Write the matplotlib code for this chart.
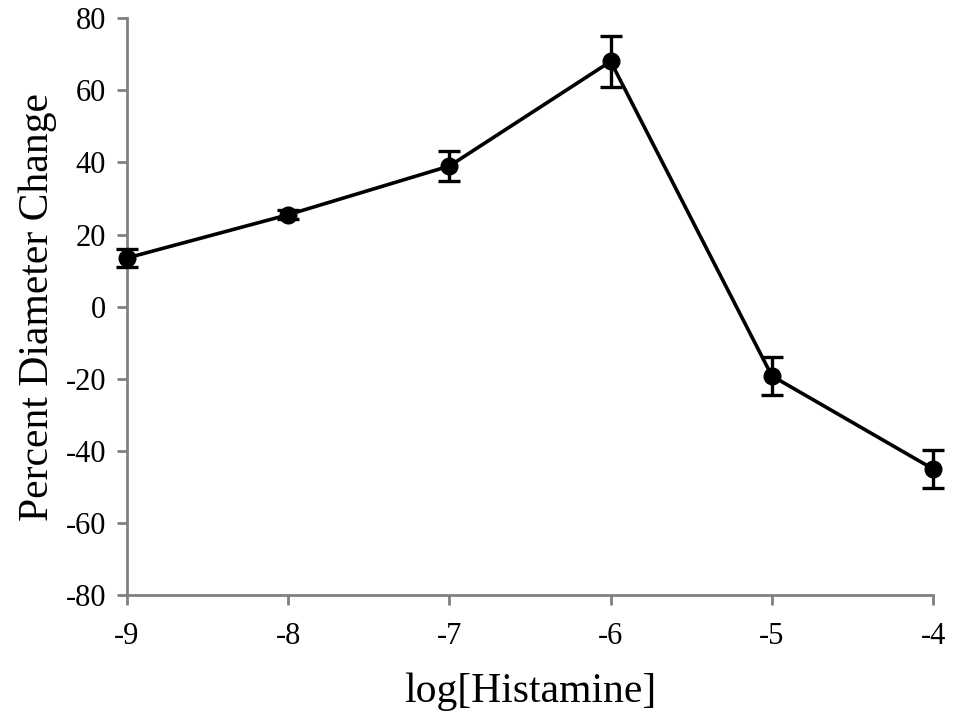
import matplotlib
matplotlib.use("Agg")
import matplotlib.pyplot as plt

# log concentration of histamine vs percent diameter change
log_conc = [-9, -8, -7, -6, -5, -4]
pct_change = [13.5, 25.5, 39.0, 68.0, -19.2, -45.0]
sem = [2.4, 1.2, 4.2, 7.0, 5.3, 5.3]

plt.rcParams['font.family'] = ['Liberation Serif', 'DejaVu Serif']
plt.rcParams['axes.unicode_minus'] = False

fig = plt.figure(figsize=(9.58, 7.25), dpi=100)
ax = fig.add_axes([0.1326, 0.179, 0.8414, 0.796])

ax.errorbar(log_conc, pct_change, yerr=sem, color='black', lw=2.6,
            marker='o', markersize=12, capsize=8, capthick=2.4, elinewidth=2.4,
            clip_on=False, zorder=5)

ax.set_xlim(-9, -4)
ax.set_ylim(-80, 80)
ax.set_xticks(range(-9, -3))
ax.set_yticks(range(-80, 81, 20))

for s in ['top', 'right']:
    ax.spines[s].set_visible(False)
for s in ['left', 'bottom']:
    ax.spines[s].set_color('#808080')
    ax.spines[s].set_linewidth(2)

ax.tick_params(axis='both', colors='#808080', width=2, length=7, labelsize=22,
               labelcolor='black')
ax.tick_params(axis='x', pad=12)
ax.tick_params(axis='y', pad=8)

ax.set_xlabel('log[Histamine]', fontsize=30, labelpad=16)
ax.set_ylabel('Percent Diameter Change', fontsize=30, labelpad=6)

fig.savefig('out.png', dpi=100)
